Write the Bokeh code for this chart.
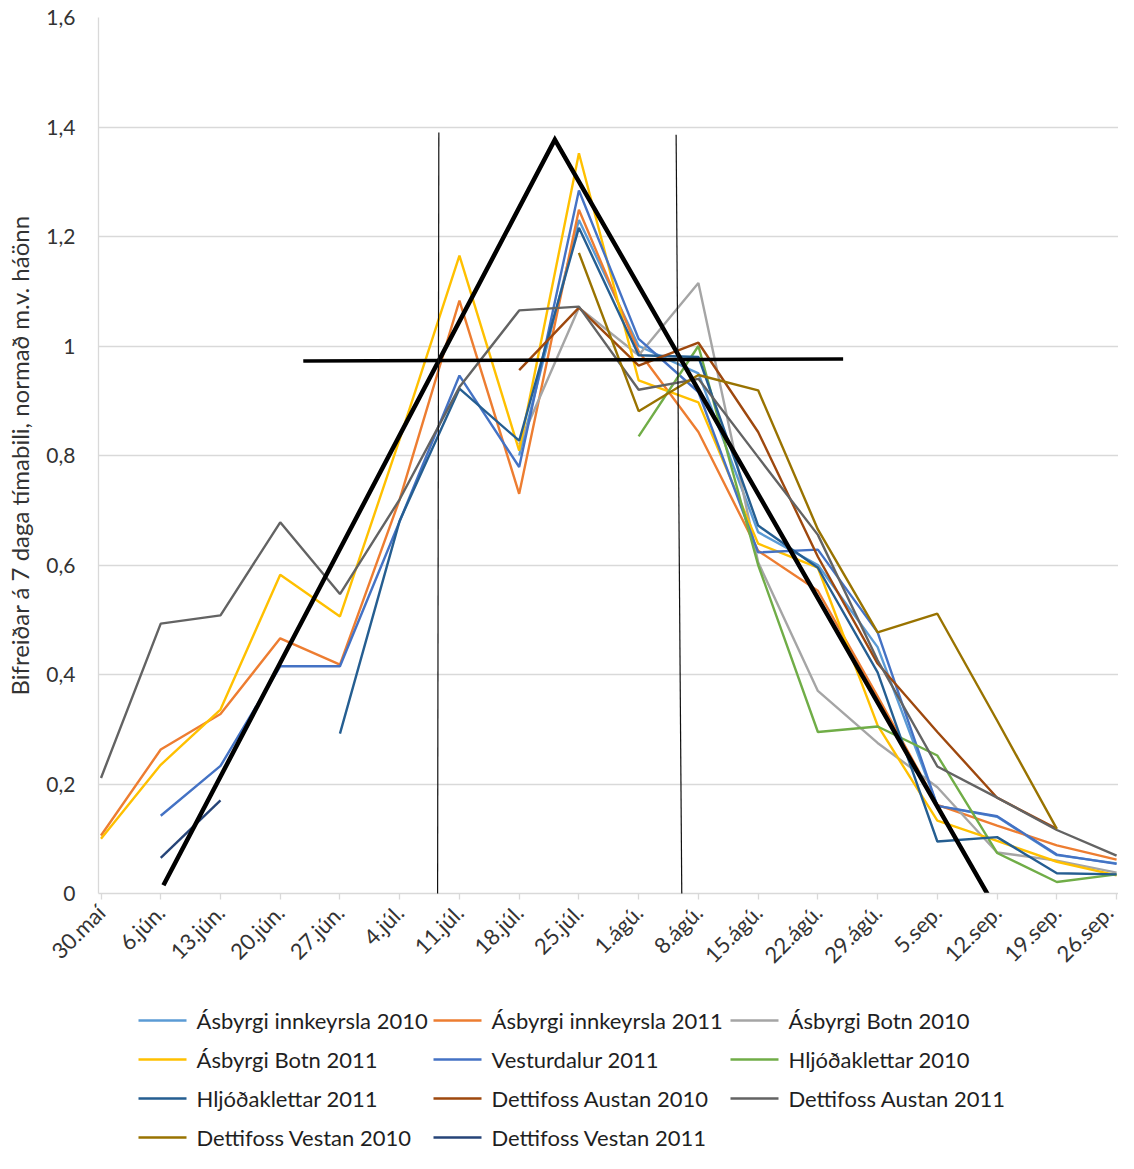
import math
import numpy as np
from bokeh.plotting import figure
from bokeh.models import Range1d, FixedTicker, Arrow
from bokeh.layouts import column
from bokeh.embed import file_html
from bokeh.resources import INLINE
from bokeh.core.properties import value

# ---------------- data ----------------
categories = ["30.maí", "6.jún.", "13.jún.", "20.jún.", "27.jún.", "4.júl.", "11.júl.",
              "18.júl.", "25.júl.", "1.ágú.", "8.ágú.", "15.ágú.", "22.ágú.", "29.ágú.",
              "5.sep.", "12.sep.", "19.sep.", "26.sep."]

N = None
asbyrgi_inn_2010 = [N, N, N, N, N, N, N, 0.80, 1.23, 1.00, 0.95, 0.66, 0.60, 0.45, 0.16, 0.14, 0.07, 0.055]
asbyrgi_inn_2011 = [0.106, 0.263, 0.328, 0.466, 0.418, 0.72, 1.083, 0.730, 1.249, 0.99, 0.843, 0.626, 0.553, 0.36, 0.162, 0.124, 0.088, 0.062]
asbyrgi_botn_2010 = [N, N, N, N, N, N, N, 0.82, 1.07, 0.983, 1.115, 0.605, 0.370, 0.275, 0.194, 0.075, 0.06, 0.038]
asbyrgi_botn_2011 = [0.100, 0.235, 0.336, 0.582, 0.506, 0.83, 1.165, 0.809, 1.352, 0.937, 0.897, 0.639, 0.595, 0.307, 0.133, 0.096, 0.058, 0.033]
vesturdalur_2011 = [N, 0.142, 0.233, 0.415, 0.415, 0.68, 0.946, 0.779, 1.284, 1.013, 0.916, 0.623, 0.628, 0.477, 0.160, 0.141, 0.071, 0.054]
hljodaklettar_2010 = [N, N, N, N, N, N, N, N, N, 0.835, 1.000, 0.600, 0.295, 0.305, 0.252, 0.074, 0.021, 0.035]
hljodaklettar_2011 = [N, N, N, N, 0.292, 0.681, 0.922, 0.827, 1.216, 0.983, 0.98, 0.672, 0.595, 0.404, 0.095, 0.103, 0.037, 0.035]
dettifoss_austan_2010 = [N, N, N, N, N, N, N, 0.956, 1.070, 0.964, 1.006, 0.843, 0.615, 0.42, 0.295, 0.175, 0.118, N]
dettifoss_austan_2011 = [0.211, 0.493, 0.508, 0.678, 0.547, 0.72, 0.925, 1.065, 1.072, 0.920, 0.940, 0.797, 0.655, 0.426, 0.232, 0.175, 0.116, 0.069]
dettifoss_vestan_2010 = [N, N, N, N, N, N, N, N, 1.170, 0.881, 0.947, 0.919, 0.665, 0.477, 0.511, 0.316, 0.118, N]
dettifoss_vestan_2011 = [N, 0.065, 0.170, N, N, N, N, N, N, N, N, N, N, N, N, N, N, N]

series_names = ["Ásbyrgi innkeyrsla 2010", "Ásbyrgi innkeyrsla 2011", "Ásbyrgi Botn 2010",
                "Ásbyrgi Botn 2011", "Vesturdalur 2011", "Hljóðaklettar 2010",
                "Hljóðaklettar 2011", "Dettifoss Austan 2010", "Dettifoss Austan 2011",
                "Dettifoss Vestan 2010", "Dettifoss Vestan 2011"]
series_values = [asbyrgi_inn_2010, asbyrgi_inn_2011, asbyrgi_botn_2010, asbyrgi_botn_2011,
                 vesturdalur_2011, hljodaklettar_2010, hljodaklettar_2011,
                 dettifoss_austan_2010, dettifoss_austan_2011, dettifoss_vestan_2010,
                 dettifoss_vestan_2011]
series_colors = ["#5B9BD5", "#ED7D31", "#A5A5A5", "#FFC000", "#4472C4", "#70AD47",
                 "#255E91", "#9E480E", "#636363", "#997300", "#264478"]

y_ticks = [0, 0.2, 0.4, 0.6, 0.8, 1.0, 1.2, 1.4, 1.6]
y_tick_labels = ["0", "0,2", "0,4", "0,6", "0,8", "1", "1,2", "1,4", "1,6"]

# hand-drawn annotation shapes (category-index / value units)
trend_x = [1.045, 7.597, 14.903]
trend_y = [0.015, 1.377, -0.013]
level_x = [3.386, 12.423]
level_y = [0.9726, 0.9763]
mark1_x = [5.655, 5.633]
mark1_y = [1.390, -0.080]
mark2_x = [9.627, 9.727]
mark2_y = [1.386, -0.080]

FONT = "Lato"
TXT = "#333333"
GRID = "#D9D9D9"

# ---------------- layout geometry (pixels) ----------------
W = 1118
MAIN_H, LEG_H = 1000, 153
FRAME_L, FRAME_T, FRAME_B = 98, 17, 893
X0_PX, X_SCALE = 100.5, 59.74          # pixel of first category, pixels per category


def px_to_x(px):
    return (px - X0_PX) / X_SCALE


# ---------------- main chart ----------------
p = figure(width=W, height=MAIN_H, output_backend="svg", toolbar_location=None,
           x_range=Range1d(px_to_x(FRAME_L), px_to_x(W)), y_range=Range1d(0, 1.6),
           min_border_left=FRAME_L, min_border_right=0, min_border_top=FRAME_T,
           min_border_bottom=MAIN_H - FRAME_B)
p.outline_line_color = None
p.background_fill_color = "white"
p.border_fill_color = "white"

p.xgrid.visible = False
p.ygrid.grid_line_color = GRID
p.ygrid.grid_line_width = 1.3
p.ygrid.ticker = FixedTicker(ticks=y_ticks)

xa = p.xaxis[0]
xa.ticker = FixedTicker(ticks=list(range(len(categories))))
xa.major_label_overrides = {i: c for i, c in enumerate(categories)}
xa.major_label_orientation = math.pi / 4
xa.axis_line_color = GRID
xa.axis_line_width = 1.3
xa.major_tick_line_color = GRID
xa.major_tick_line_width = 1.3
xa.major_tick_out = 6
xa.major_tick_in = 0
xa.minor_tick_line_color = None
xa.major_label_standoff = 9
xa.major_label_text_font = FONT
xa.major_label_text_font_size = "22px"
xa.major_label_text_color = TXT

ya = p.yaxis[0]
ya.ticker = FixedTicker(ticks=y_ticks)
ya.major_label_overrides = {t: l for t, l in zip(y_ticks, y_tick_labels)}
ya.axis_line_color = GRID
ya.axis_line_width = 1.3
ya.major_tick_line_color = None
ya.minor_tick_line_color = None
ya.major_tick_out = 0
ya.major_tick_in = 0
ya.major_label_standoff = 23
ya.major_label_text_font = FONT
ya.major_label_text_font_size = "21px"
ya.major_label_text_color = TXT
ya.axis_label = "Bifreiðar á 7 daga tímabili, normað m.v. háönn"
ya.axis_label_text_font = FONT
ya.axis_label_text_font_size = "24px"
ya.axis_label_text_font_style = "normal"
ya.axis_label_text_color = TXT
ya.axis_label_standoff = 9

xs = np.arange(len(categories))
for vals, col in zip(series_values, series_colors):
    ys = np.array([np.nan if v is None else v for v in vals], dtype=float)
    p.line(xs, ys, line_color=col, line_width=2.4)

# annotations drawn on the chart
p.line(trend_x, trend_y, line_color="black", line_width=4.5, line_join="miter")
p.line(level_x, level_y, line_color="black", line_width=3.5)
for mx, my in ((mark1_x, mark1_y), (mark2_x, mark2_y)):
    p.add_layout(Arrow(end=None, x_start=mx[0], y_start=my[0], x_end=mx[1], y_end=my[1],
                       line_color="#111111", line_width=1.2))

# ---------------- legend figure (page-pixel coordinates) ----------------
leg = figure(width=W, height=LEG_H, output_backend="svg", toolbar_location=None,
             x_range=Range1d(FRAME_L, W), y_range=Range1d(MAIN_H + LEG_H, MAIN_H),
             x_axis_type=None, y_axis_type=None,
             min_border_left=FRAME_L, min_border_right=0, min_border_top=0,
             min_border_bottom=0)
leg.outline_line_color = None
leg.grid.visible = False

col_px = [138, 433, 730]
row_py = [1020, 1059, 1098, 1137]
lx0, lx1, ltx, ly = [], [], [], []
for k in range(len(series_names)):
    c, r = k % 3, k // 3
    lx0.append(col_px[c])
    lx1.append(col_px[c] + 48)
    ltx.append(col_px[c] + 58)
    ly.append(row_py[r])
leg.segment(lx0, ly, lx1, ly, line_color=series_colors, line_width=2.4)
leg.text(ltx, ly, text=series_names, text_baseline="middle", text_align="left",
         text_font=value(FONT), text_font_size="22px", text_color="#1f1f1f")

layout = column(p, leg, spacing=0)
open("out.html", "w").write(file_html(layout, INLINE))
